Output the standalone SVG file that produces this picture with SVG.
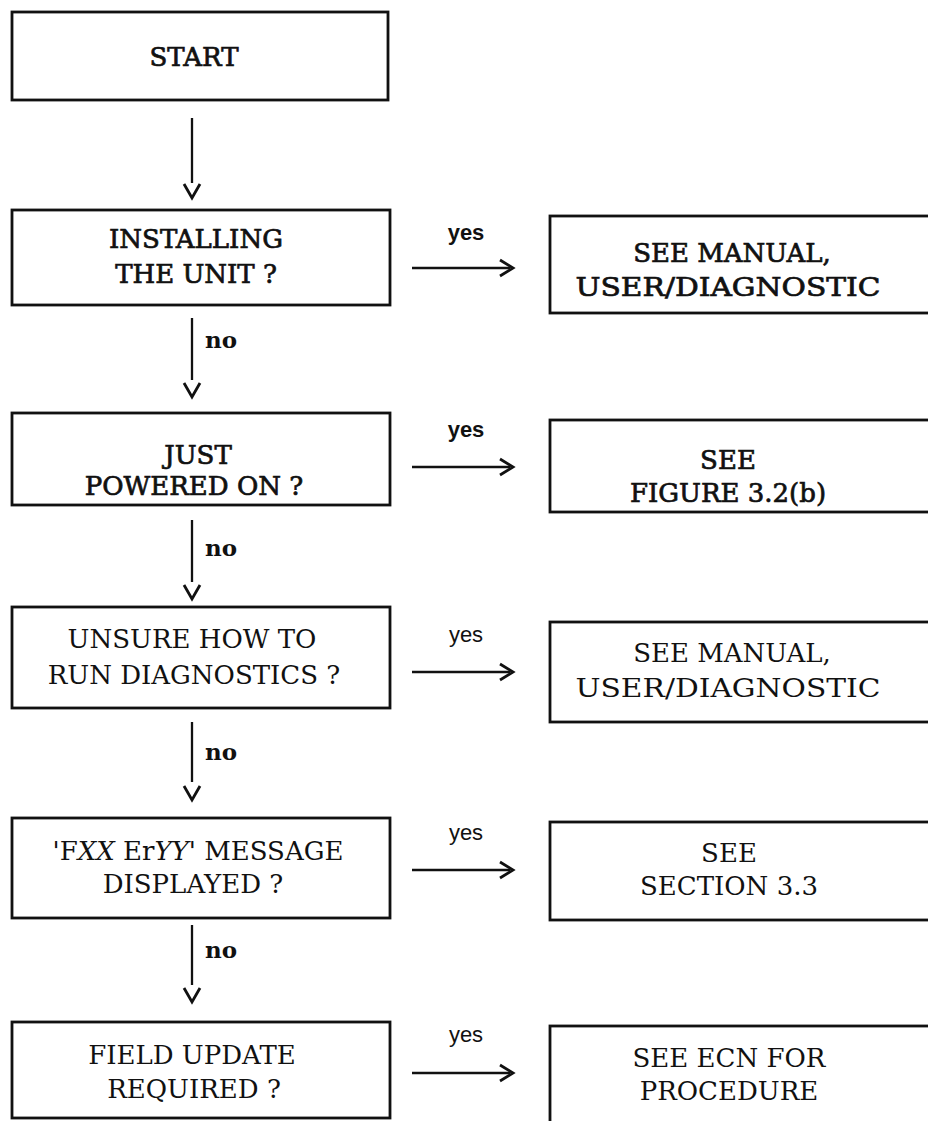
<svg xmlns="http://www.w3.org/2000/svg" width="928" height="1121" viewBox="0 0 928 1121">
<style>
.box{fill:#fff;stroke:#111;stroke-width:2.8}
.t{font-family:"DejaVu Serif","Liberation Serif",serif;font-size:26px;fill:#111;text-anchor:middle}
.hv{stroke:#111;stroke-width:0.7}
.yes{font-family:"Liberation Sans",Arial,sans-serif;font-size:22px;fill:#111;text-anchor:middle}
.yb{font-weight:bold}
.no{font-family:"DejaVu Serif","Liberation Serif",serif;font-size:23px;font-weight:bold;fill:#111}
.ln{stroke:#111;stroke-width:2.3;fill:none}
.hd{stroke:#111;stroke-width:2.8;fill:none;stroke-linejoin:miter}
</style>
<rect width="928" height="1121" fill="#fff"/>
<g id="start"><rect class="box" x="12" y="12" width="376" height="88"/><text class="t hv" x="194" y="66" font-size="27">START</text></g>
<g id="installing"><rect class="box" x="12" y="210" width="378" height="95"/><text class="t hv" x="196" y="248" font-size="27">INSTALLING</text><text class="t hv" x="196" y="283" font-size="27">THE UNIT ?</text></g>
<g id="manual1"><rect class="box" x="550" y="216" width="382" height="97"/><text class="t hv" x="732" y="262" font-size="28">SEE MANUAL,</text><text class="t hv" x="728" y="296" font-size="28" textLength="305" lengthAdjust="spacingAndGlyphs">USER/DIAGNOSTIC</text></g>
<g id="powered"><rect class="box" x="12" y="413" width="378" height="92"/><text class="t hv" x="198" y="464" font-size="27">JUST</text><text class="t hv" x="194" y="495" font-size="27">POWERED ON ?</text></g>
<g id="figure"><rect class="box" x="550" y="420" width="382" height="92"/><text class="t hv" x="728" y="469">SEE</text><text class="t hv" x="728" y="502">FIGURE 3.2(b)</text></g>
<g id="unsure"><rect class="box" x="12" y="607" width="378" height="101"/><text class="t" x="192" y="648">UNSURE HOW TO</text><text class="t" x="194" y="684">RUN DIAGNOSTICS ?</text></g>
<g id="manual2"><rect class="box" x="550" y="622" width="382" height="100"/><text class="t" x="732" y="662" font-size="27">SEE MANUAL,</text><text class="t" x="728" y="697" font-size="27" textLength="305" lengthAdjust="spacingAndGlyphs">USER/DIAGNOSTIC</text></g>
<g id="message"><rect class="box" x="12" y="818" width="378" height="100"/><text class="t" x="198" y="860">'F<tspan font-style="italic">XX</tspan> Er<tspan font-style="italic">YY</tspan>' MESSAGE</text><text class="t" x="193" y="893">DISPLAYED ?</text></g>
<g id="section"><rect class="box" x="550" y="822" width="382" height="98"/><text class="t" x="729" y="862">SEE</text><text class="t" x="729" y="895">SECTION 3.3</text></g>
<g id="field"><rect class="box" x="12" y="1022" width="378" height="96"/><text class="t" x="192" y="1064">FIELD UPDATE</text><text class="t" x="194" y="1098">REQUIRED ?</text></g>
<g id="ecn"><rect class="box" x="550" y="1026" width="382" height="97"/><text class="t" x="729" y="1067">SEE ECN FOR</text><text class="t" x="729" y="1100">PROCEDURE</text></g>
<g id="connectors">
<path class="ln" d="M192 118V183"/><path class="hd" d="M184 184L192 198L200 184"/>
<path class="ln" d="M192 318V380"/><path class="hd" d="M184 383L192 397L200 383"/><text class="no" x="205" y="348">no</text>
<path class="ln" d="M192 520V582"/><path class="hd" d="M184 585L192 599L200 585"/><text class="no" x="205" y="556">no</text>
<path class="ln" d="M192 722V782"/><path class="hd" d="M184 786L192 800L200 786"/><text class="no" x="205" y="760">no</text>
<path class="ln" d="M192 925V985"/><path class="hd" d="M184 988L192 1002L200 988"/><text class="no" x="205" y="958">no</text>
<path class="ln" d="M412 268H510"/><path class="hd" d="M500 260L513 268L500 276"/><text class="yes yb" x="466" y="240">yes</text>
<path class="ln" d="M412 467H510"/><path class="hd" d="M500 459L513 467L500 475"/><text class="yes yb" x="466" y="437">yes</text>
<path class="ln" d="M412 672H510"/><path class="hd" d="M500 664L513 672L500 680"/><text class="yes" x="466" y="642">yes</text>
<path class="ln" d="M412 870H510"/><path class="hd" d="M500 862L513 870L500 878"/><text class="yes" x="466" y="840">yes</text>
<path class="ln" d="M412 1073H510"/><path class="hd" d="M500 1065L513 1073L500 1081"/><text class="yes" x="466" y="1042">yes</text>
</g>
</svg>
